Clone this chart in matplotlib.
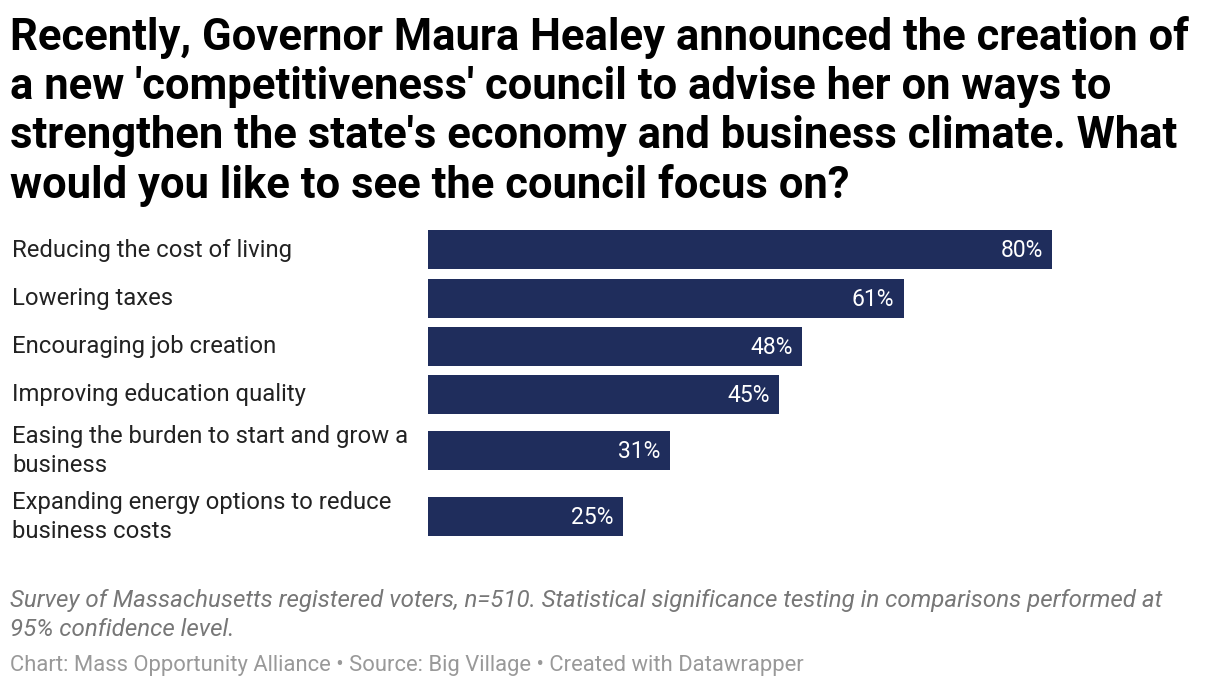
import matplotlib.pyplot as plt

categories = [
    "Reducing the cost of living",
    "Lowering taxes",
    "Encouraging job creation",
    "Improving education quality",
    "Easing the burden to start and grow a\nbusiness",
    "Expanding energy options to reduce\nbusiness costs",
]
values = [80, 61, 48, 45, 31, 25]
value_labels = ["80%", "61%", "48%", "45%", "31%", "25%"]

title = ("Recently, Governor Maura Healey announced the creation of\n"
         "a new 'competitiveness' council to advise her on ways to\n"
         "strengthen the state's economy and business climate. What\n"
         "would you like to see the council focus on?")
note = ("Survey of Massachusetts registered voters, n=510. Statistical significance testing in comparisons performed at\n"
        "95% confidence level.")
credit = "Chart: Mass Opportunity Alliance \u2022 Source: Big Village \u2022 Created with Datawrapper"

plt.rcParams['font.family'] = ['Roboto', 'DejaVu Sans']

W, H = 1220, 688
fig = plt.figure(figsize=(W / 100, H / 100), dpi=100)

# row centres in pixels (two-line labels make taller rows)
row_y = [249.5, 298, 346, 394, 450, 516]
bar_h = 39

ax = fig.add_axes([428 / W, 0, 780 / W, 1])
ax.set_xlim(0, 100)
ax.set_ylim(H, 0)
ax.axis('off')
ax.barh(row_y, values, height=bar_h, color='#1f2d5c')
for y, v, lab in zip(row_y, values, value_labels):
    ax.text(v - 1.2, y + 1, lab, ha='right', va='center', color='white',
            fontsize=16.5)

for y, cat in zip(row_y, categories):
    fig.text(12 / W, 1 - (y + 1) / H, cat, ha='left', va='center', fontsize=17.2,
             color='#222222', linespacing=1.28)

fig.text(10 / W, 1 - 16 / H, title, ha='left', va='top', fontsize=31.4,
         fontweight='bold', color='#000000', linespacing=1.21)
fig.text(10 / W, 1 - 589 / H, note, ha='left', va='top', fontsize=17.4,
         style='italic', color='#777777', linespacing=1.32)
fig.text(10 / W, 1 - 655 / H, credit, ha='left', va='top', fontsize=15.8,
         color='#999999')

fig.savefig('out.png', dpi=100)
